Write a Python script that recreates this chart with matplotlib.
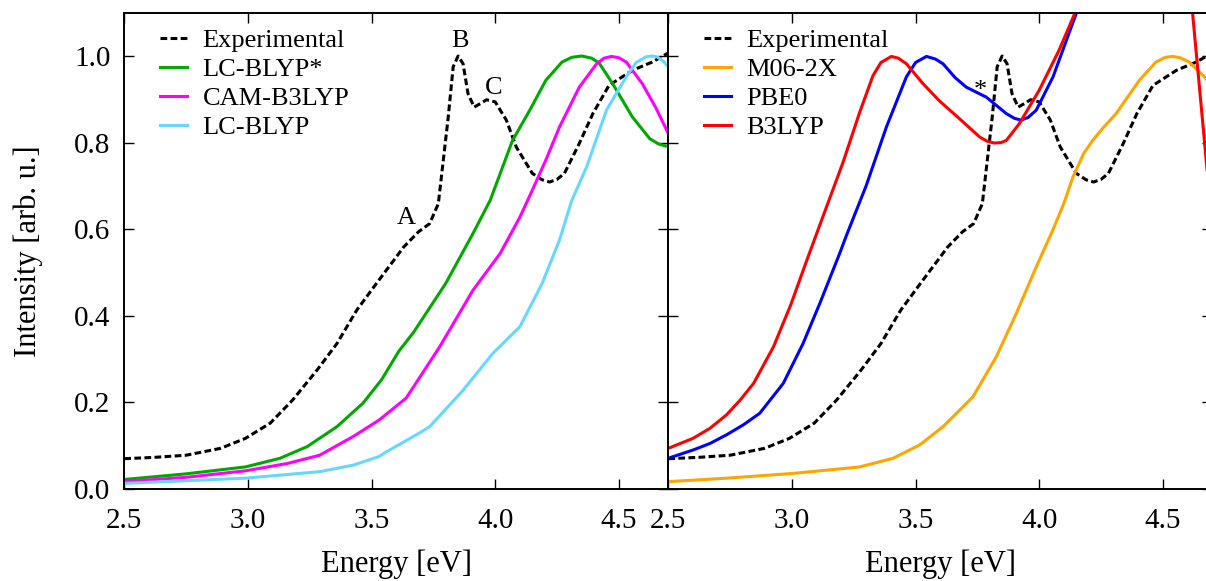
import matplotlib
matplotlib.use("Agg")
import matplotlib.pyplot as plt

plt.rcParams['font.family'] = ['Liberation Serif', 'DejaVu Serif']

# experimental spectrum (same in both panels)
exp_e = [2.50, 2.62, 2.75, 2.89, 2.99, 3.09, 3.18, 3.28, 3.36, 3.44, 3.52, 3.60, 3.63, 3.69,
         3.735, 3.77, 3.81, 3.83, 3.85, 3.87, 3.89, 3.915, 3.94, 3.965, 4.00, 4.045, 4.085,
         4.15, 4.19, 4.22, 4.25, 4.28, 4.34, 4.395, 4.46, 4.555, 4.635, 4.70]
exp_i = [0.070, 0.073, 0.078, 0.094, 0.117, 0.152, 0.205, 0.275, 0.336, 0.413, 0.475, 0.536,
         0.559, 0.594, 0.613, 0.659, 0.859, 0.975, 1.000, 0.982, 0.913, 0.882, 0.890, 0.899,
         0.894, 0.852, 0.790, 0.729, 0.714, 0.709, 0.715, 0.729, 0.798, 0.867, 0.932, 0.967,
         0.986, 1.007]

# left panel: range-separated functionals
lcs_e = [2.50, 2.75, 2.99, 3.13, 3.24, 3.36, 3.465, 3.54, 3.61, 3.67, 3.80, 3.91, 3.98,
         4.07, 4.14, 4.205, 4.27, 4.31, 4.35, 4.39, 4.42, 4.475, 4.555, 4.625, 4.66, 4.69, 4.70]
lcs_i = [0.022, 0.035, 0.051, 0.071, 0.098, 0.144, 0.198, 0.252, 0.318, 0.362, 0.475, 0.590,
         0.667, 0.805, 0.875, 0.944, 0.986, 0.997, 1.000, 0.995, 0.984, 0.936, 0.859, 0.809,
         0.797, 0.792, 0.792]

cam_e = [2.50, 2.75, 2.99, 3.16, 3.29, 3.425, 3.53, 3.64, 3.775, 3.91, 4.02, 4.10, 4.15,
         4.205, 4.26, 4.34, 4.41, 4.44, 4.47, 4.50, 4.53, 4.595, 4.65, 4.70]
cam_i = [0.017, 0.027, 0.042, 0.059, 0.078, 0.121, 0.159, 0.210, 0.328, 0.459, 0.544, 0.628,
         0.690, 0.760, 0.836, 0.928, 0.982, 0.995, 0.999, 0.996, 0.986, 0.936, 0.880, 0.821]

lc_e = [2.50, 2.99, 3.29, 3.425, 3.53, 3.56, 3.69, 3.735, 3.87, 3.99, 4.10, 4.19, 4.26, 4.31,
        4.37, 4.45, 4.53, 4.57, 4.61, 4.635, 4.655, 4.68, 4.70]
lc_i = [0.013, 0.025, 0.040, 0.055, 0.075, 0.086, 0.128, 0.144, 0.228, 0.313, 0.375, 0.475,
        0.575, 0.667, 0.744, 0.875, 0.952, 0.985, 0.998, 1.000, 0.998, 0.988, 0.975]

# right panel: global hybrids
m06_e = [2.50, 2.736, 3.005, 3.274, 3.409, 3.517, 3.611, 3.678, 3.732, 3.826, 3.907, 3.988,
         4.055, 4.10, 4.136, 4.18, 4.216, 4.26, 4.311, 4.405, 4.472, 4.51, 4.54, 4.57, 4.607,
         4.668, 4.70]
m06_i = [0.017, 0.025, 0.036, 0.051, 0.071, 0.102, 0.144, 0.182, 0.213, 0.305, 0.405, 0.513,
         0.598, 0.660, 0.720, 0.775, 0.805, 0.835, 0.867, 0.944, 0.986, 0.997, 0.999, 0.996,
         0.986, 0.952, 0.930]

pbe_e = [2.50, 2.60, 2.668, 2.735, 2.803, 2.87, 2.965, 3.045, 3.113, 3.193, 3.22, 3.30, 3.382,
         3.463, 3.50, 3.544, 3.58, 3.611, 3.66, 3.705, 3.786, 3.867, 3.90, 3.927, 3.955, 3.988,
         4.056, 4.149, 4.30, 4.50, 4.70]
pbe_i = [0.071, 0.090, 0.105, 0.125, 0.148, 0.175, 0.244, 0.336, 0.429, 0.544, 0.585, 0.700,
         0.836, 0.952, 0.985, 0.999, 0.993, 0.982, 0.950, 0.928, 0.905, 0.867, 0.856, 0.852,
         0.858, 0.875, 0.952, 1.097, 1.350, 1.550, 1.600]

b3_e = [2.50, 2.60, 2.668, 2.735, 2.79, 2.845, 2.925, 2.995, 3.06, 3.113, 3.207, 3.274, 3.328,
        3.36, 3.402, 3.43, 3.463, 3.53, 3.597, 3.678, 3.759, 3.79, 3.819, 3.845, 3.867, 3.92,
        4.00, 4.08, 4.143, 4.20, 4.30, 4.40, 4.50, 4.58, 4.62, 4.668, 4.70]
b3_i = [0.094, 0.117, 0.140, 0.171, 0.205, 0.244, 0.328, 0.425, 0.528, 0.610, 0.755, 0.870,
        0.955, 0.985, 0.999, 0.995, 0.982, 0.936, 0.896, 0.855, 0.813, 0.803, 0.799, 0.800,
        0.805, 0.844, 0.921, 1.013, 1.097, 1.200, 1.380, 1.500, 1.450, 1.300, 1.100, 0.805,
        0.600]

xticks = [2.5, 3.0, 3.5, 4.0, 4.5]
yticks = [0.0, 0.2, 0.4, 0.6, 0.8, 1.0]

W, H = 1206, 581
fig = plt.figure(figsize=(W / 100, H / 100), dpi=100)
ax1 = fig.add_axes([124.3 / W, 92 / H, 544 / W, 476.3 / H])
ax2 = fig.add_axes([668.3 / W, 92 / H, 544 / W, 476.3 / H])

lw = 2.2
dash = (0, (2.2, 1.1))

ax1.plot(exp_e, exp_i, color='black', lw=lw, ls=dash, label='Experimental')
ax1.plot(lcs_e, lcs_i, color='#00a800', lw=lw, label='LC-BLYP*')
ax1.plot(cam_e, cam_i, color='#ff00ff', lw=lw, label='CAM-B3LYP')
ax1.plot(lc_e, lc_i, color='#66d8ff', lw=lw, label='LC-BLYP')

ax2.plot(exp_e, exp_i, color='black', lw=lw, ls=dash, label='Experimental')
ax2.plot(m06_e, m06_i, color='#ffa500', lw=lw, label='M06-2X')
ax2.plot(pbe_e, pbe_i, color='#0000ff', lw=lw, label='PBE0')
ax2.plot(b3_e, b3_i, color='#ff0000', lw=lw, label='B3LYP')

ax1.text(3.64, 0.613, 'A', ha='center', va='baseline', fontsize=19)
ax1.text(3.856, 1.021, 'B', ha='center', va='baseline', fontsize=19)
ax1.text(3.992, 0.913, 'C', ha='center', va='baseline', fontsize=19)
ax2.text(3.76, 0.905, '*', ha='center', va='baseline', fontsize=19)

for ax in (ax1, ax2):
    ax.set_xlim(2.5, 4.7)
    ax.set_ylim(0, 1.1)
    ax.set_xticks(xticks)
    ax.set_xticklabels(['%.1f' % t for t in xticks])
    ax.set_yticks(yticks)
    ax.tick_params(direction='in', top=True, right=True, length=7, width=1.0,
                   labelsize=21, pad=10)
    ax.tick_params(axis='x', pad=14)
    for s in ax.spines.values():
        s.set_linewidth(1.4)
    ax.set_xlabel('Energy [eV]', fontsize=22)
    ax.xaxis.set_label_coords(0.5, -0.128)
    ax.legend(loc='upper left', bbox_to_anchor=(0.066, 0.966), frameon=False, fontsize=19,
              handlelength=1.0, handletextpad=0.6, labelspacing=0.21, borderpad=0,
              borderaxespad=0)

ax1.set_yticklabels(['%.1f' % t for t in yticks])
ax2.set_yticklabels([])
ax1.set_ylabel('Intensity [arb. u.]', fontsize=22)
ax1.yaxis.set_label_coords(-0.15, 0.5)

fig.savefig('out.png', dpi=100)
